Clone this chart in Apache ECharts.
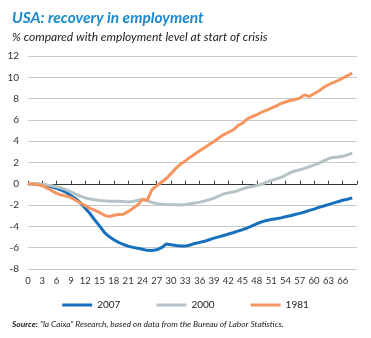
<!DOCTYPE html>
<html>
<head>
<meta charset="utf-8">
<script src="https://cdn.jsdelivr.net/npm/echarts@6/dist/echarts.min.js"></script>
<style>
html,body{margin:0;padding:0;background:#fff;}
#c{width:371px;height:338px;}
</style>
</head>
<body>
<div id="c"></div>
<script>
// Months since start of crisis
const months = [0,1,2,3,4,5,6,7,8,9,10,11,12,13,14,15,16,17,18,19,20,21,22,23,24,25,26,27,28,29,30,31,32,33,34,35,36,37,38,39,40,41,42,43,44,45,46,47,48,49,50,51,52,53,54,55,56,57,58,59,60,61,62,63,64,65,66,67,68];
const seriesNames = ['2007','2000','1981'];
const s2007 = [0,-0.02,-0.05,-0.12,-0.2,-0.3,-0.42,-0.6,-0.8,-1.1,-1.4,-1.8,-2.3,-2.8,-3.4,-3.95,-4.55,-4.95,-5.25,-5.5,-5.7,-5.85,-5.97,-6.05,-6.15,-6.25,-6.27,-6.2,-6.0,-5.65,-5.72,-5.8,-5.85,-5.85,-5.75,-5.6,-5.5,-5.4,-5.25,-5.1,-4.98,-4.85,-4.72,-4.6,-4.45,-4.3,-4.15,-3.95,-3.75,-3.58,-3.45,-3.35,-3.28,-3.2,-3.1,-3.0,-2.88,-2.78,-2.65,-2.5,-2.38,-2.22,-2.08,-1.95,-1.82,-1.68,-1.55,-1.45,-1.32];
const s2000 = [0,0.02,0,-0.05,-0.1,-0.18,-0.28,-0.4,-0.55,-0.75,-0.98,-1.15,-1.32,-1.42,-1.5,-1.56,-1.6,-1.63,-1.65,-1.65,-1.67,-1.7,-1.65,-1.55,-1.5,-1.6,-1.75,-1.85,-1.92,-1.95,-1.96,-1.97,-1.98,-1.95,-1.88,-1.8,-1.72,-1.62,-1.5,-1.35,-1.15,-0.95,-0.85,-0.78,-0.65,-0.48,-0.35,-0.25,-0.15,-0.05,0.15,0.3,0.45,0.6,0.8,1.05,1.2,1.32,1.45,1.6,1.75,1.95,2.15,2.35,2.48,2.52,2.58,2.72,2.88];
const s1981 = [0,-0.02,-0.08,-0.18,-0.4,-0.65,-0.9,-1.05,-1.15,-1.3,-1.55,-1.8,-2.05,-2.3,-2.48,-2.7,-2.95,-3.08,-2.95,-2.88,-2.85,-2.62,-2.3,-2.0,-1.45,-1.55,-0.55,-0.2,0.15,0.5,0.95,1.45,1.85,2.15,2.5,2.8,3.1,3.38,3.68,3.98,4.3,4.6,4.82,5.05,5.45,5.7,6.1,6.3,6.5,6.72,6.9,7.1,7.3,7.52,7.68,7.82,7.92,8.05,8.35,8.2,8.45,8.72,9.05,9.3,9.5,9.7,9.92,10.15,10.4];
const yTicks = [-8,-6,-4,-2,0,2,4,6,8,10,12];
const xTickStep = 3;
const colors = ['#1670bd','#b6c3c6','#f5955f'];

const pairs = arr => months.map((m,i)=>[m,arr[i]]);
const dataSets = [s2007,s2000,s1981];

const chart = echarts.init(document.getElementById('c'), null, {renderer:'canvas'});
const font = 'Lato, "Open Sans", sans-serif';
chart.setOption({
  animation:false,
  textStyle:{fontFamily:font},
  title:[
    {text:'USA: recovery in employment', left:7, top:5,
     textStyle:{fontFamily:font,fontSize:15.5,fontWeight:'bold',fontStyle:'italic',color:'#1b89cc'}},
    {text:'% compared with employment level at start of crisis', left:7, top:26,
     textStyle:{fontFamily:font,fontSize:12,fontWeight:'normal',fontStyle:'italic',color:'#222'}},
    {text:'{b|Source:} "la Caixa" Research, based on data from the Bureau of Labor Statistics.', left:7, top:315,
     textStyle:{fontFamily:font,fontSize:8.4,fontStyle:'italic',fontWeight:'normal',color:'#222',
       rich:{b:{fontFamily:font,fontSize:8.4,fontStyle:'italic',fontWeight:'bold',color:'#222'}}}}
  ],
  legend:{
    top:295, left:'center', itemWidth:30, itemHeight:3, itemGap:36, icon:'rect',
    textStyle:{fontFamily:font,fontSize:10,color:'#222'},
    data:seriesNames
  },
  grid:{left:28, right:14, top:56, bottom:69, containLabel:false},
  xAxis:[
    {type:'value', min:0, max:69, interval:xTickStep, position:'bottom',
     axisLine:{show:true,onZero:true,lineStyle:{color:'#333',width:1}},
     axisTick:{show:true,inside:true,length:3,lineStyle:{color:'#333'}},
     axisLabel:{show:false}, splitLine:{show:false}},
    {type:'value', min:0, max:69, interval:xTickStep, position:'bottom',
     axisLine:{show:false,onZero:false}, axisTick:{show:false},
     axisLabel:{show:true,fontFamily:font,fontSize:9.5,color:'#333',margin:7,hideOverlap:false,
       formatter:v=> v===69 ? '' : String(v)},
     splitLine:{show:false}}
  ],
  yAxis:{type:'value', min:yTicks[0], max:yTicks[yTicks.length-1], interval:2,
    axisLine:{show:false}, axisTick:{show:false},
    axisLabel:{fontFamily:font,fontSize:10,color:'#333',margin:9},
    splitLine:{lineStyle:{color:'#c9c9c9',width:1}}},
  series: seriesNames.map((n,i)=>({
    name:n, type:'line', xAxisIndex:0, data:pairs(dataSets[i]), showSymbol:false, symbol:'none',
    lineStyle:{width:3,color:colors[i]}, itemStyle:{color:colors[i]}, z:2+i
  }))
});
</script>
</body>
</html>
